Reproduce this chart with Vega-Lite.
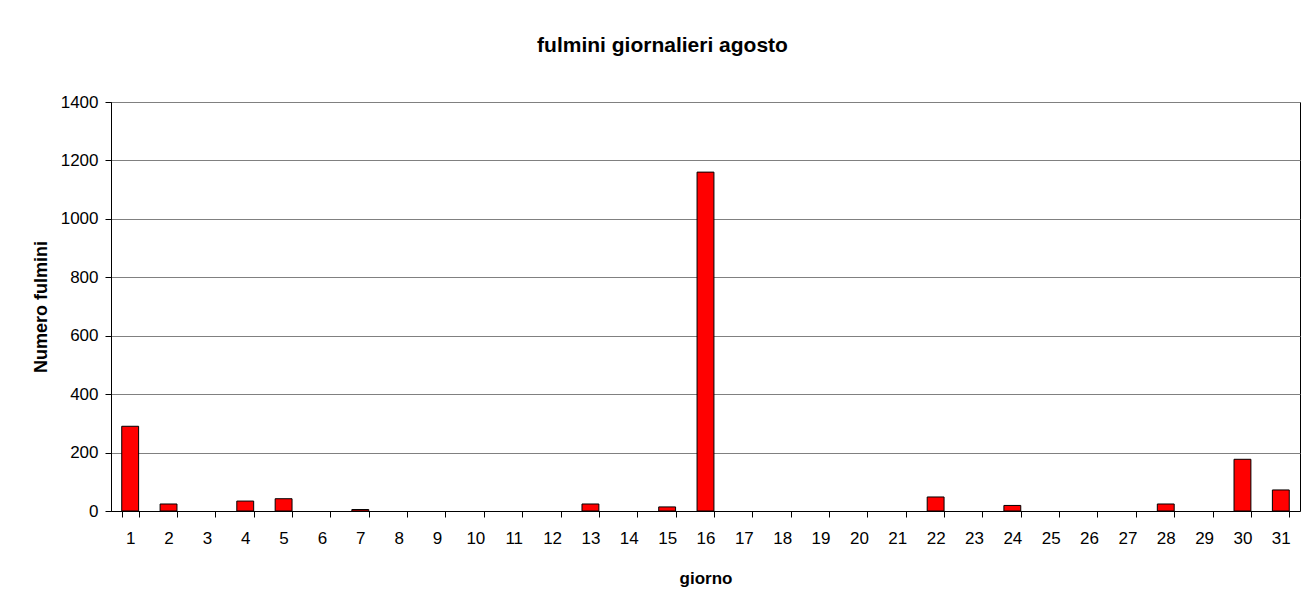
{
  "$schema": "https://vega.github.io/schema/vega-lite/v6.json",
  "width": 1189,
  "height": 409,
  "autosize": "none",
  "padding": {"left": 111, "top": 102, "right": 3, "bottom": 85},
  "background": "white",
  "title": {
    "text": "fulmini giornalieri agosto",
    "font": "Liberation Sans",
    "fontSize": 21,
    "fontWeight": "bold",
    "color": "black",
    "anchor": "middle",
    "dx": -43,
    "baseline": "bottom",
    "offset": 16
  },
  "data": {
    "values": [
      {"giorno": 1, "fulmini": 290},
      {"giorno": 2, "fulmini": 24},
      {"giorno": 3, "fulmini": 0},
      {"giorno": 4, "fulmini": 34},
      {"giorno": 5, "fulmini": 42},
      {"giorno": 6, "fulmini": 0},
      {"giorno": 7, "fulmini": 5},
      {"giorno": 8, "fulmini": 0},
      {"giorno": 9, "fulmini": 0},
      {"giorno": 10, "fulmini": 0},
      {"giorno": 11, "fulmini": 0},
      {"giorno": 12, "fulmini": 0},
      {"giorno": 13, "fulmini": 24},
      {"giorno": 14, "fulmini": 0},
      {"giorno": 15, "fulmini": 14},
      {"giorno": 16, "fulmini": 1160},
      {"giorno": 17, "fulmini": 0},
      {"giorno": 18, "fulmini": 0},
      {"giorno": 19, "fulmini": 0},
      {"giorno": 20, "fulmini": 0},
      {"giorno": 21, "fulmini": 0},
      {"giorno": 22, "fulmini": 48},
      {"giorno": 23, "fulmini": 0},
      {"giorno": 24, "fulmini": 19},
      {"giorno": 25, "fulmini": 0},
      {"giorno": 26, "fulmini": 0},
      {"giorno": 27, "fulmini": 0},
      {"giorno": 28, "fulmini": 24},
      {"giorno": 29, "fulmini": 0},
      {"giorno": 30, "fulmini": 177},
      {"giorno": 31, "fulmini": 72}
    ]
  },
  "mark": {"type": "bar", "fill": "#FF0000", "stroke": "black", "strokeWidth": 1},
  "encoding": {
    "x": {
      "field": "giorno",
      "type": "ordinal",
      "sort": "ascending",
      "scale": {"paddingInner": 0.56, "paddingOuter": 0.28},
      "axis": {
        "title": "giorno",
        "labelAngle": 0,
        "tickBand": "extent",
        "domainColor": "black",
        "tickColor": "black",
        "tickSize": 6,
        "labelPadding": 13,
        "labelFont": "Liberation Sans",
        "labelFontSize": 17,
        "labelColor": "black",
        "titleFont": "Liberation Sans",
        "titleFontSize": 17,
        "titleFontWeight": "bold",
        "titleColor": "black",
        "titlePadding": 24
      }
    },
    "y": {
      "field": "fulmini",
      "type": "quantitative",
      "scale": {"domain": [0, 1400], "nice": false},
      "axis": {
        "title": "Numero fulmini",
        "format": "d",
        "values": [0, 200, 400, 600, 800, 1000, 1200, 1400],
        "grid": true,
        "gridColor": "#808080",
        "gridOpacity": 1,
        "domainColor": "black",
        "tickColor": "black",
        "tickSize": 6,
        "labelPadding": 7,
        "labelFont": "Liberation Sans",
        "labelFontSize": 17,
        "labelColor": "black",
        "titleFont": "Liberation Sans",
        "titleFontSize": 18,
        "titleFontWeight": "bold",
        "titleColor": "black",
        "titlePadding": 10
      }
    },
    "strokeOpacity": {
      "condition": {"test": "datum.fulmini == 0", "value": 0},
      "value": 1
    }
  },
  "config": {
    "view": {"stroke": "black", "strokeWidth": 1}
  }
}
